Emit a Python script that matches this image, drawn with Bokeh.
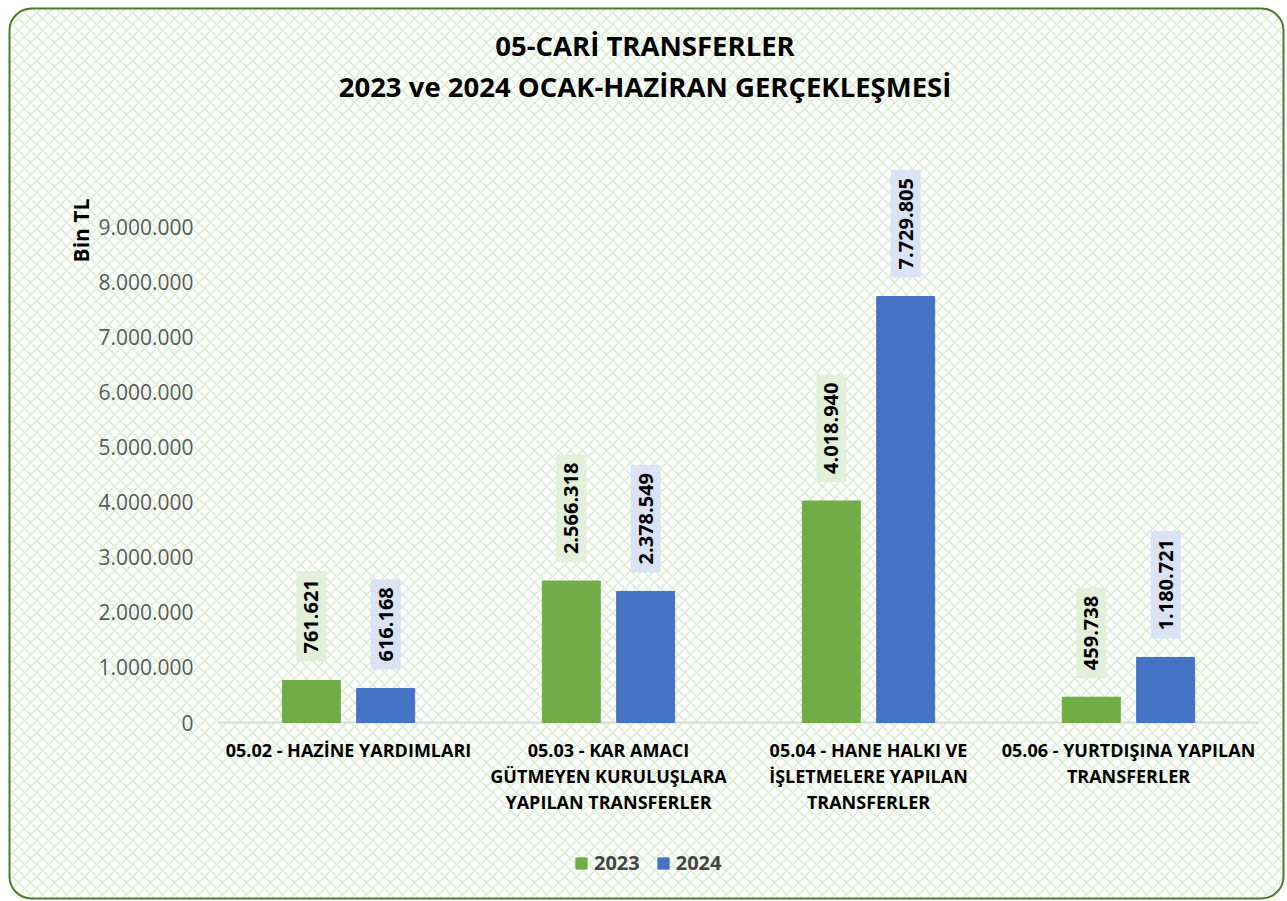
import math
from bokeh.plotting import figure
from bokeh.models import (ColumnDataSource, Label, LabelSet, BoxAnnotation,
                          Legend, LegendItem, Range1d)
from bokeh.transform import dodge
from bokeh.core.properties import value
from bokeh.embed import file_html
from bokeh.resources import INLINE

categories = [
    "05.02 - HAZİNE YARDIMLARI",
    "05.03 - KAR AMACI\nGÜTMEYEN KURULUŞLARA\nYAPILAN TRANSFERLER",
    "05.04 - HANE HALKI VE\nİŞLETMELERE YAPILAN\nTRANSFERLER",
    "05.06 - YURTDIŞINA YAPILAN\nTRANSFERLER",
]
values_2023 = [761621, 2566318, 4018940, 459738]
values_2024 = [616168, 2378549, 7729805, 1180721]
y_ticks = [0, 1000000, 2000000, 3000000, 4000000, 5000000, 6000000, 7000000, 8000000, 9000000]
title_lines = ["05-CARİ TRANSFERLER", "2023 ve 2024 OCAK-HAZİRAN GERÇEKLEŞMESİ"]
series_names = ["2023", "2024"]
y_label = "Bin TL"


def tr(n):
    return f"{n:,}".replace(",", ".")


FONT = "Open Sans"
GREEN = "#70ad47"
BLUE = "#4472c4"

# ---- layout (canvas pixels) ----
W, H = 1285, 900
PX_PER_CAT = 260.0
X0_PX = 218.0            # canvas x of left edge of first category
Y0_PX = 722.0            # canvas y of value 0
PX_PER_UNIT = 496.0 / 9e6
LINE_STEP = 26           # category label line spacing (px)

x_start = -X0_PX / PX_PER_CAT
x_end = (W - X0_PX) / PX_PER_CAT
y_end = Y0_PX / PX_PER_UNIT
y_start = -(H - Y0_PX) / PX_PER_UNIT


def sy(cy):  # canvas y (from top) -> screen units (from bottom)
    return H - cy


xs = [i + 0.5 for i in range(len(categories))]
src = ColumnDataSource(dict(x=xs, y2023=values_2023, y2024=values_2024))

p = figure(width=W, height=H, x_range=Range1d(x_start, x_end), y_range=Range1d(y_start, y_end),
           output_backend="svg", toolbar_location=None,
           x_axis_location=None, y_axis_location=None,
           min_border=0, min_border_left=0, min_border_right=0, min_border_top=0, min_border_bottom=0)
p.title = None
p.background_fill_color = "white"
p.border_fill_color = "white"
p.outline_line_color = None
p.grid.visible = False

# background panel with lattice
panel = BoxAnnotation(left=9, right=1283, bottom=sy(899), top=sy(7),
                      left_units="screen", right_units="screen", top_units="screen", bottom_units="screen",
                      fill_color="white", fill_alpha=1.0,
                      hatch_pattern="x", hatch_color="#d9ecd0", hatch_alpha=1.0, hatch_scale=12,
                      hatch_weight=1.5, line_color=None, border_radius=22, level="underlay")
p.add_layout(panel)
# rounded border
frame_box = BoxAnnotation(left=9, right=1283, bottom=sy(898), top=sy(8),
                          left_units="screen", right_units="screen", top_units="screen", bottom_units="screen",
                          fill_alpha=0, line_color="#4e7a2c", line_alpha=1.0, line_width=2,
                          border_radius=22, level="overlay")
p.add_layout(frame_box)

# x axis line across categories
p.segment(x0=[0], x1=[len(categories)], y0=[0], y1=[0], line_color="#d9d9d9", line_width=2)

OFF = 0.143
r1 = p.vbar(x=dodge("x", -OFF), top="y2023", width=0.223, source=src,
            fill_color=GREEN, line_color=GREEN)
r2 = p.vbar(x=dodge("x", OFF), top="y2024", width=0.223, source=src,
            fill_color=BLUE, line_color=BLUE)

# value labels
for i in range(len(categories)):
    for vals, off, bg in [(values_2023, -OFF, "#e2efda"), (values_2024, OFF, "#dae3f3")]:
        lab = Label(x=xs[i] + off, y=vals[i], text=tr(vals[i]),
                    angle=math.pi / 2, text_align="left", text_baseline="middle",
                    y_offset=19, text_font=FONT, text_font_style="bold",
                    text_font_size="20px", text_color="black",
                    background_fill_color=bg, padding=8)
        p.add_layout(lab)

# y tick labels
tick_src = ColumnDataSource(dict(y=y_ticks, t=[tr(t) for t in y_ticks]))
p.add_layout(LabelSet(x=193, y="y", text="t", source=tick_src, x_units="screen",
                      text_align="right", text_baseline="middle",
                      text_font=value(FONT), text_font_size="21px", text_color="#595959"))

# category labels, one centred line each
cx, ct, co = [], [], []
for i, c in enumerate(categories):
    for k, line in enumerate(c.split("\n")):
        cx.append(xs[i])
        ct.append(line)
        co.append(-(27 + LINE_STEP * k))
cat_src = ColumnDataSource(dict(x=cx, t=ct, off=co))
p.add_layout(LabelSet(x="x", y=0, text="t", source=cat_src, y_offset="off",
                      text_align="center", text_baseline="middle",
                      text_font=value(FONT), text_font_style="bold", text_font_size="18px",
                      text_color="black"))

# title
for line, cy in zip(title_lines, [45, 86]):
    p.add_layout(Label(x=W / 2 + 2, y=sy(cy), x_units="screen", y_units="screen", text=line,
                       text_align="center", text_baseline="middle", text_font=FONT,
                       text_font_style="bold", text_font_size="27.5px", text_color="black"))

# y axis label
p.add_layout(Label(x=80, y=sy(230), x_units="screen", y_units="screen",
                   text=y_label, angle=math.pi / 2, text_align="center", text_baseline="middle",
                   text_font=FONT, text_font_style="bold", text_font_size="21px", text_color="black"))

legend = Legend(items=[LegendItem(label=series_names[0], renderers=[r1]),
                       LegendItem(label=series_names[1], renderers=[r2])],
                orientation="horizontal", location=(574, sy(876)),
                label_text_font=FONT, label_text_font_style="bold", label_text_font_size="20px",
                glyph_width=14, glyph_height=14, spacing=16, label_standoff=6,
                padding=0, margin=0, background_fill_alpha=0, border_line_color=None)
p.add_layout(legend)

open("out.html", "w").write(file_html(p, INLINE))
